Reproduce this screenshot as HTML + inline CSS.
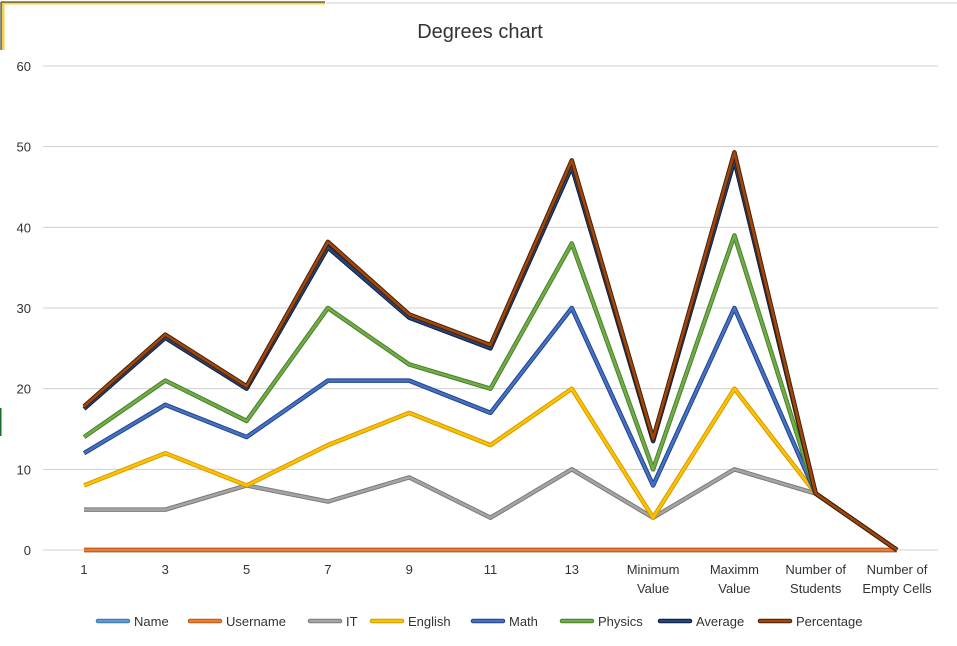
<!DOCTYPE html>
<html><head><meta charset="utf-8"><style>
html,body{margin:0;padding:0;background:#fff;}
svg{display:block;font-family:"Liberation Sans",sans-serif;}
</style></head><body>
<svg id="chart" width="957" height="646" viewBox="0 0 957 646">
<rect width="957" height="646" fill="#fff"/>
<g>
<line x1="2" y1="3" x2="325" y2="3" stroke="#f3d34a" stroke-width="3"/>
<line x1="3" y1="3" x2="3" y2="50" stroke="#f3d34a" stroke-width="3"/>
<line x1="1" y1="2" x2="325" y2="2" stroke="#222" stroke-width="1"/>
<line x1="1" y1="2" x2="1" y2="50" stroke="#222" stroke-width="1"/>
<line x1="326" y1="3" x2="957" y2="3" stroke="#ccc" stroke-width="1"/>
<line x1="0" y1="408" x2="0" y2="436" stroke="#1e6b2e" stroke-width="3"/>
</g>
<text x="480" y="38" text-anchor="middle" font-size="20" fill="#333">Degrees chart</text>
<g id="grid"></g><g id="xlabels"></g><g id="series"></g><g id="legend"></g>
</svg>
<script>
const categories=["1","3","5","7","9","11","13","Minimum|Value","Maximm|Value","Number of|Students","Number of|Empty Cells"];
const yTicks=[0,10,20,30,40,50,60];
const nameVals=[0,0,0,0,0,0,0,0,0,0,0];
const usernameVals=[0,0,0,0,0,0,0,0,0,0,0];
const itVals=[5,5,8,6,9,4,10,4,10,7,0];
const englishVals=[8,12,8,13,17,13,20,4,20,7,0];
const mathVals=[12,18,14,21,21,17,30,8,30,7,0];
const physicsVals=[14,21,16,30,23,20,38,10,39,7,0];
const averageVals=[17.5,26.3,20,37.5,28.8,25,47.5,13.5,48.3,7,0];
const percentageVals=[17.8,26.7,20.3,38.2,29.2,25.4,48.3,13.8,49.3,7,0];
const seriesNames=["Name","Username","IT","English","Math","Physics","Average","Percentage"];

const NS="http://www.w3.org/2000/svg";
const x0=84,x1=897,y0=550,y60=66;
const X=i=>x0+(x1-x0)*i/(categories.length-1);
const Y=v=>y0-(y0-y60)*v/60;
function mk(t,a,p){const e=document.createElementNS(NS,t);for(const k in a)e.setAttribute(k,a[k]);p.appendChild(e);return e;}
const grid=document.getElementById('grid');
yTicks.forEach(t=>{
 const l=mk('line',{x1:43,x2:938,y1:Y(t),y2:Y(t),stroke:'#d0d0d0','stroke-width':1},grid);
 
 
 const tx=mk('text',{x:31,y:Y(t)+5,'text-anchor':'end','font-size':13,fill:'#333'},grid);
 tx.textContent=t;
 
 
});
const xl=document.getElementById('xlabels');
categories.forEach((c,i)=>{
 const parts=c.split('|');
 parts.forEach((p,j)=>{
  const tx=mk('text',{x:X(i),y:574+j*19,'text-anchor':'middle','font-size':13,fill:'#333'},xl);
  tx.textContent=p;
  
  
 });
});
const defs=[
 [nameVals,'#5b9bd5','#3a78b0'],[usernameVals,'#ed7d31','#b85a1c'],[itVals,'#a5a5a5','#7a7a7a'],
 [englishVals,'#ffc000','#d09c00'],[mathVals,'#4472c4','#22408a'],[physicsVals,'#70ad47','#4b7f2d'],
 [averageVals,'#264478','#0e1f3c'],[percentageVals,'#9e480e','#4a1f05']];
const sg=document.getElementById('series');
defs.forEach((d,k)=>{
 const pts=d[0].map((v,i)=>X(i)+','+Y(v)).join(' ');
 const g=mk('g',{},sg);
 
 
 mk('polyline',{points:pts,fill:'none',stroke:d[2],'stroke-width':4.5,'stroke-linejoin':'round'},g);
 mk('polyline',{points:pts,fill:'none',stroke:d[1],'stroke-width':2.5,'stroke-linejoin':'round'},g);
});
const lg=document.getElementById('legend');
const lx=[98,190,310,372,473,562,660,760];
defs.forEach((d,k)=>{
 const g=mk('g',{},lg);
 
 
 mk('line',{x1:lx[k],x2:lx[k]+30,y1:621,y2:621,stroke:d[2],'stroke-width':4.5,'stroke-linecap':'round'},g);
 mk('line',{x1:lx[k],x2:lx[k]+30,y1:621,y2:621,stroke:d[1],'stroke-width':2.5,'stroke-linecap':'round'},g);
 const tx=mk('text',{x:lx[k]+36,y:626,'font-size':13,fill:'#333'},g);
 tx.textContent=seriesNames[k];
});
</script>
</body></html>
